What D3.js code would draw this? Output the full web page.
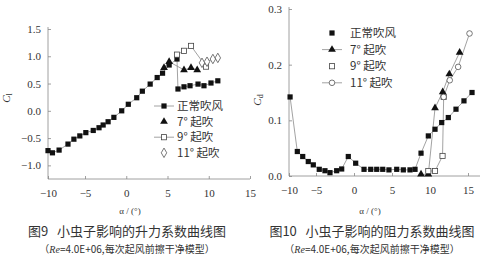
<!DOCTYPE html>
<html><head><meta charset="utf-8">
<script src="https://cdn.jsdelivr.net/npm/d3@7/dist/d3.min.js"></script>
<style>
body{margin:0;background:#fff;}
svg{display:block;}
text{fill:#333;}
.num{font-family:"Liberation Serif","DejaVu Serif",serif;font-size:11px;}
.cjk{font-family:"Noto Sans CJK SC","Noto Sans",sans-serif;white-space:pre;}
</style></head>
<body>
<svg id="c" width="483" height="264"></svg>
<script>
// ---------- Data: Fig.9 lift coefficient ----------
const liftNormalAlpha = [-10,-9.4,-8.5,-7.3,-6.5,-5.7,-4.9,-4.0,-3.3,-2.8,-2.2,-1.5,-0.55,0.25,1.27,1.95,2.9,3.75,4.4,5.2,6.15,6.27,7.0,7.73,8.7,9.42,10.27,11.1];
const liftNormalCl    = [-0.73,-0.77,-0.72,-0.61,-0.52,-0.46,-0.40,-0.36,-0.31,-0.26,-0.20,-0.12,0.0,0.12,0.24,0.36,0.49,0.61,0.69,0.84,0.95,0.40,0.44,0.46,0.49,0.46,0.51,0.55];
const lift7Alpha  = [4.58,5.2,7.0,7.85,8.6];
const lift7Cl     = [0.79,0.90,0.75,0.79,0.75];
const lift9Alpha  = [6.15,7.0,7.85,9.67];
const lift9Cl     = [1.03,1.10,1.19,0.81];
const lift11Alpha = [9.18,9.79,10.5,11.1];
const lift11Cl    = [0.88,0.90,0.95,0.97];
const liftXTicks = [-10,-5,0,5,10,15];
const liftYTicks = [-1.0,-0.5,0.0,0.5,1.0,1.5];

// ---------- Data: Fig.10 drag coefficient ----------
const dragNormalAlpha = [-9.8,-8.46,-7.46,-6.43,-5.5,-4.57,-3.82,-3.16,-2.28,-1.62,-0.75,0.22,1.32,2.2,2.99,3.78,4.6,5.62,6.49,7.37,8.03,8.82,9.78,10.66,11.54,12.41,13.42,14.47,15.53];
const dragNormalCd    = [0.142,0.044,0.035,0.026,0.020,0.012,0.0095,0.006,0.0095,0.0126,0.035,0.023,0.012,0.012,0.012,0.012,0.011,0.012,0.011,0.011,0.012,0.041,0.072,0.084,0.096,0.105,0.120,0.135,0.150];
const drag7Alpha  = [8.82,9.78,10.66,11.67,12.54,13.9];
const drag7Cd     = [0.003,0.003,0.122,0.151,0.183,0.222];
const drag9Alpha  = [9.78,10.66,11.65,11.8];
const drag9Cd     = [0.009,0.009,0.036,0.142];
const drag11Alpha = [11.8,12.6,13.7,15.2];
const drag11Cd    = [0.142,0.172,0.196,0.256];
const dragXTicks = [-10,-5,0,5,10,15];
const dragYTicks = [0.0,0.1,0.2,0.3];

const seriesNames = ["正常吹风","7° 起吹","9° 起吹","11° 起吹"];
const captions = ["图9   小虫子影响的升力系数曲线图","图10   小虫子影响的阻力系数曲线图"];
const subCaption = "=4.0E+06,每次起风前擦干净模型）";
const xTitle = "α / (°)";

const svg = d3.select("#c");
const LINE = "#8a8a8a", AX = "#888";
const fmt = d3.format(".1f");

function zip(a,b){return a.map((v,i)=>[v,b[i]]);}

function marker(g, type, x, y){
  if(type==="fsq") g.append("rect").attr("x",x-2.6).attr("y",y-2.6).attr("width",5.2).attr("height",5.2).attr("fill","#111");
  else if(type==="osq") g.append("rect").attr("x",x-2.6).attr("y",y-2.6).attr("width",5.2).attr("height",5.2).attr("fill","#fff").attr("stroke","#444").attr("stroke-width",0.8);
  else if(type==="tri") g.append("path").attr("d",d3.symbol(d3.symbolTriangle,26)()).attr("transform",`translate(${x},${y})`).attr("fill","#111");
  else if(type==="dia") g.append("path").attr("d",d3.symbol(d3.symbolDiamond,26)()).attr("transform",`translate(${x},${y})`).attr("fill","#fff").attr("stroke","#555").attr("stroke-width",0.8);
  else if(type==="cir") g.append("circle").attr("cx",x).attr("cy",y).attr("r",2.8).attr("fill","#fff").attr("stroke","#555").attr("stroke-width",0.8);
}

function chart(opt){
  const g = svg.append("g");
  const x = opt.x, y = opt.y;
  const [x0] = x.range(); const xEnd = opt.xEnd;
  const yb = y.range()[0], yt = y.range()[1];
  const ya = d3.axisLeft(y).tickValues(opt.yTicks).tickFormat(fmt).tickSize(-3).tickPadding(7);
  const yg = g.append("g").attr("transform",`translate(${x0},0)`).call(ya);
  yg.select(".domain").attr("d",`M0,${yb}V${yt-2}`);
  const xa = d3.axisBottom(x).tickValues(opt.xTicks).tickFormat(d3.format("d")).tickSize(-3).tickPadding(10);
  const xg = g.append("g").attr("transform",`translate(0,${yb})`).call(xa);
  xg.select(".domain").attr("d",`M${x0},0H${xEnd}`);
  [yg,xg].forEach(a=>{a.selectAll("path,line").attr("stroke",AX).attr("stroke-width",0.8);
    a.selectAll("text").attr("class","num").attr("fill","#333").style("font-size","11px").attr("font-family",null);});
  const line = d3.line().x(d=>x(d[0])).y(d=>y(d[1]));
  opt.series.forEach(s=>{
    g.append("path").attr("d",line(s.data)).attr("fill","none").attr("stroke",LINE).attr("stroke-width",0.8);
  });
  opt.series.forEach(s=>{
    const mg = g.append("g");
    s.data.forEach(d=>marker(mg,s.type,x(d[0]),y(d[1])));
  });
  const yl = g.append("text").attr("transform",`translate(${opt.ylab[0]},${opt.ylab[1]}) rotate(-90)`)
    .attr("text-anchor","middle").attr("class","num").style("font-size","11px");
  yl.append("tspan").text("C").style("font-style","italic");
  yl.append("tspan").text(opt.ylabSub).attr("dy",2).style("font-size","8px");
  const lg = g.append("g").attr("class","cjk");
  opt.series.forEach((s,i)=>{
    const ly = opt.leg[1] + i*opt.legStep;
    if(s.legLine) lg.append("line").attr("x1",opt.leg[0]-10).attr("x2",opt.leg[0]+10).attr("y1",ly).attr("y2",ly).attr("stroke",LINE).attr("stroke-width",0.8);
    marker(lg,s.type,opt.leg[0],ly);
    lg.append("text").attr("x",opt.leg[0]+opt.legTx).attr("y",ly+4).text(seriesNames[i]).style("font-size","11.5px").attr("fill","#333");
  });
  g.append("text").attr("x",opt.xt).attr("y",214).attr("text-anchor","middle").attr("class","num").style("font-size","9px").text(xTitle);
  g.append("text").attr("x",opt.cap).attr("y",236).attr("text-anchor","middle").attr("class","cjk").style("font-size","13px").text(opt.caption);
  const sc = g.append("text").attr("x",opt.cap).attr("y",253).attr("text-anchor","middle").attr("class","cjk").style("font-size","10px");
  sc.append("tspan").text("（");
  sc.append("tspan").text("Re").style("font-style","italic").style("font-family","Liberation Serif");
  sc.append("tspan").text(subCaption);
}

chart({
  x: d3.scaleLinear().domain([-10,-5,15]).range([48,85,250]),
  y: d3.scaleLinear().domain([-1.25,1.5]).range([179,29]),
  xEnd: 250, xTicks: liftXTicks, yTicks: liftYTicks,
  ylab:[10,98], ylabSub:"l",
  leg:[164,106], legStep:15.6, legTx:13,
  xt:130, cap:127, caption:captions[0],
  series:[
    {type:"fsq", data:zip(liftNormalAlpha,liftNormalCl), legLine:true},
    {type:"tri", data:zip(lift7Alpha,lift7Cl), legLine:false},
    {type:"osq", data:zip(lift9Alpha,lift9Cl), legLine:true},
    {type:"dia", data:zip(lift11Alpha,lift11Cl), legLine:false}
  ]
});

chart({
  x: d3.scaleLinear().domain([-10,-5,15]).range([289,316,468]),
  y: d3.scaleLinear().domain([0,0.3]).range([176,9]),
  xEnd: 480, xTicks: dragXTicks, yTicks: dragYTicks,
  ylab:[261,100], ylabSub:"d",
  leg:[332,33], legStep:16.6, legTx:18,
  xt:370, cap:372, caption:captions[1],
  series:[
    {type:"fsq", data:zip(dragNormalAlpha,dragNormalCd), legLine:false},
    {type:"tri", data:zip(drag7Alpha,drag7Cd), legLine:true},
    {type:"osq", data:zip(drag9Alpha,drag9Cd), legLine:false},
    {type:"cir", data:zip(drag11Alpha,drag11Cd), legLine:true}
  ]
});
</script>
</body></html>
